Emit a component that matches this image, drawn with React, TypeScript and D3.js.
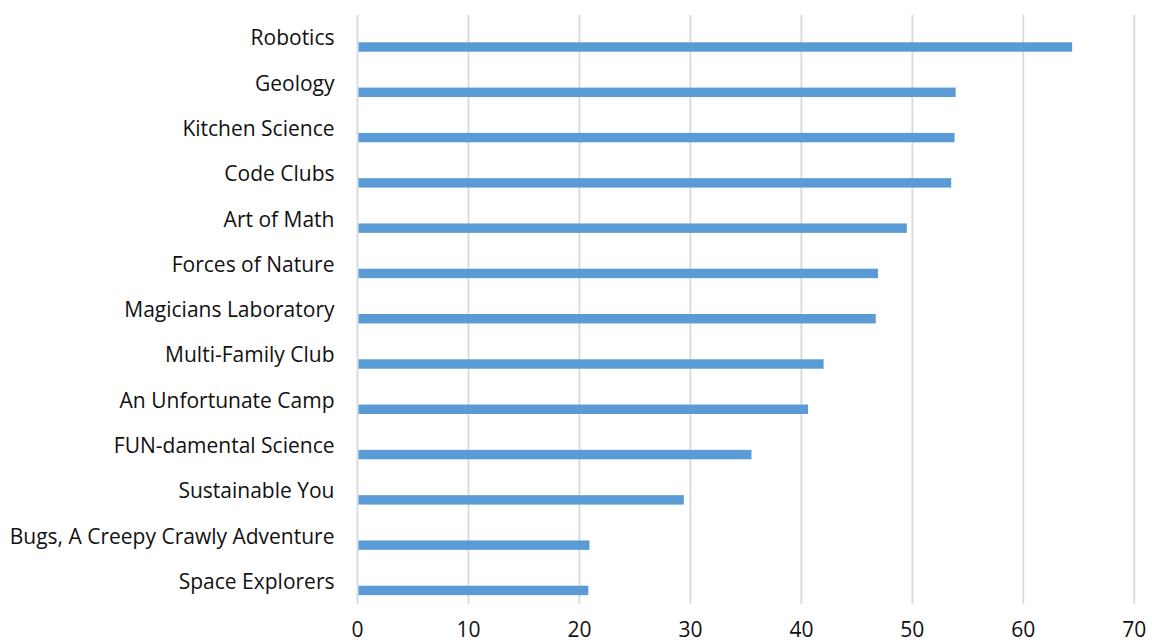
import React from "react";
import * as d3 from "d3";

const categories = [
  "Robotics",
  "Geology",
  "Kitchen Science",
  "Code Clubs",
  "Art of Math",
  "Forces of Nature",
  "Magicians Laboratory",
  "Multi-Family Club",
  "An Unfortunate Camp",
  "FUN-damental Science",
  "Sustainable You",
  "Bugs, A Creepy Crawly Adventure",
  "Space Explorers",
];
const values = [64.4, 53.9, 53.8, 53.5, 49.5, 46.9, 46.7, 42.0, 40.6, 35.5, 29.4, 20.9, 20.8];
const ticks = [0, 10, 20, 30, 40, 50, 60, 70];

export default function App() {
  const W = 1152;
  const H = 643;
  const x = d3.scaleLinear().domain([0, 70]).range([357.5, 1134.3]);
  const y = d3.scaleBand<string>().domain(categories).range([15, 603.7]).padding(0);
  const bw = y.bandwidth();
  const font = "'Open Sans', 'Liberation Sans', sans-serif";
  return (
    <svg width={W} height={H} style={{ position: "absolute", left: 0, top: 0, background: "#fff" }}>
      {ticks.map((t) => (
        <line key={"g" + t} x1={x(t)} x2={x(t)} y1={15} y2={603.7} stroke="#d9d9d9" strokeWidth={1.8} />
      ))}
      {categories.map((c, i) => (
        <rect
          key={c}
          x={x(0) + 1}
          y={(y(c) as number) + bw * 0.603}
          width={x(values[i]) - x(0) - 1}
          height={bw * 0.208}
          fill="#5b9bd5"
        />
      ))}
      {categories.map((c) => (
        <text
          key={"l" + c}
          x={334.5}
          y={(y(c) as number) + bw * 0.5 + 7.8}
          textAnchor="end"
          fontFamily={font}
          fontSize={21}
          fill="#111"
        >
          {c}
        </text>
      ))}
      {ticks.map((t) => (
        <text
          key={"t" + t}
          x={x(t)}
          y={636.5}
          textAnchor="middle"
          fontFamily={font}
          fontSize={21}
          fill="#111"
        >
          {t}
        </text>
      ))}
    </svg>
  );
}
